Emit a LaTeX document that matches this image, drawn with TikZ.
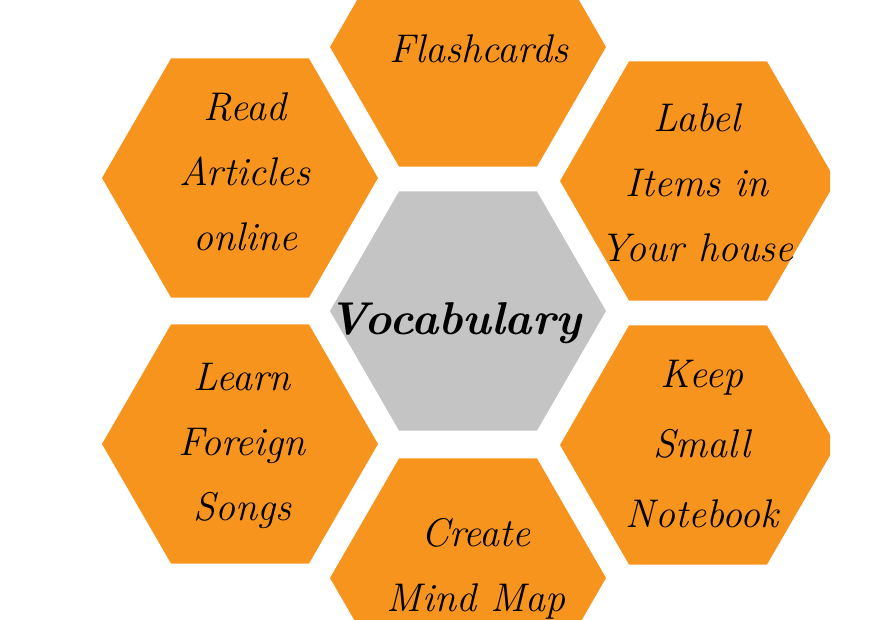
\documentclass[tikz,border=0pt]{standalone}
\usetikzlibrary{shapes.geometric}
\definecolor{hexorange}{RGB}{247,148,29}
\definecolor{hexgray}{RGB}{196,196,196}

\begin{document}
\begin{tikzpicture}[x=1pt, y=-1pt,
  hexa/.style={regular polygon, regular polygon sides=6, minimum size=276pt,
    inner sep=0pt, outer sep=0pt, fill=hexorange},
  word/.style={align=center, inner sep=0pt, font=\fontsize{40}{65}\selectfont\itshape}]
  \useasboundingbox (0,0) rectangle (875,620);

  \begin{scope}
    \clip (0,0) rectangle (830,620);
    \node[hexa] (fla) at (468,47) {};
    \node[hexa] (rea) at (240,178) {};
    \node[hexa] (lab) at (698,181) {};
    \node[hexa, fill=hexgray] (voc) at (468,311) {};
    \node[hexa] (lea) at (240,444) {};
    \node[hexa] (kee) at (698,445) {};
    \node[hexa] (cre) at (468,578) {};
  \end{scope}

  \node[word] (flatext) at (479,49) {Flashcards};
  \node[word] (reatext) at (245,172) {Read\\Articles\\online};
  \node[word] (labtext) at (697,183) {Label\\Items in\\Your house};
  \node[word, font=\fontsize{46}{50}\selectfont\bfseries\itshape] (voctext) at (455,323) {Vocabulary};
  \node[word] (leatext) at (242,446) {Learn\\Foreign\\Songs};
  \node[word, font=\fontsize{40}{70}\selectfont\itshape] (keetext) at (702,444) {Keep\\Small\\Notebook};
  \node[word] (cretext) at (476,569) {Create\\Mind Map};
\end{tikzpicture}
\end{document}
